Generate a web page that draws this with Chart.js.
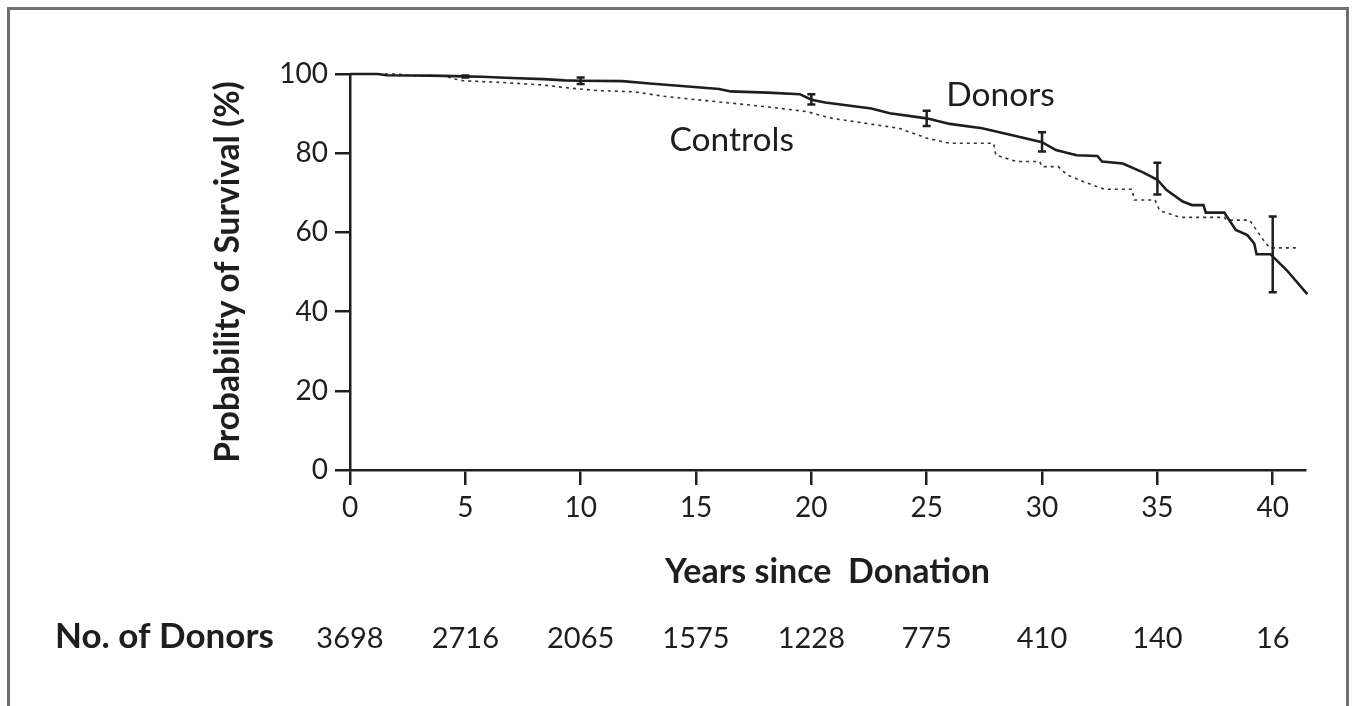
<!DOCTYPE html>
<html lang="en">
<head>
    <meta charset="UTF-8">
    <title>Probability of Survival - Donors vs Controls</title>
    <script src="https://cdn.jsdelivr.net/npm/chart.js"></script>
    <style>
      body { margin: 0; background: #fff; }
      #frame { position: absolute; left: 7px; top: 7px; width: 1336px; height: 720px;
               border: 3px solid #707070; border-bottom: none; }
      #survivalChart { position: absolute; left: 0; top: 0; }
    </style>
</head>
<body>
    <div id="frame"></div>
    <canvas id="survivalChart" width="1352" height="706"></canvas>

    <script>
      // Kaplan-Meier curves (years, % surviving)
      const donorYears = [0, 1.2, 1.6, 3.5, 5.0, 5.7, 7.0, 8.4, 9.3, 10, 11.8, 13.0, 15.2, 16.0, 16.5, 18.1, 19.5, 20.0, 20.6, 22.6, 23.4, 25.0, 26.0, 27.4, 28.9, 30.0, 30.6, 31.5, 32.4, 32.6, 33.5, 34.4, 35.0, 35.4, 36.1, 36.5, 37.0, 37.1, 37.9, 38.4, 38.9, 39.2, 39.3, 39.9, 40.6, 41.5];
      const donorSurvival = [100, 100, 99.7, 99.6, 99.4, 99.3, 99.0, 98.7, 98.4, 98.3, 98.2, 97.6, 96.6, 96.2, 95.6, 95.3, 94.9, 93.5, 92.8, 91.3, 90.1, 88.8, 87.4, 86.3, 84.3, 82.8, 80.8, 79.5, 79.3, 77.9, 77.4, 75.1, 73.3, 70.7, 67.8, 66.9, 66.9, 65.0, 65.0, 60.6, 59.3, 57.2, 54.5, 54.5, 50.5, 44.4];

      const controlYears = [0, 2.0, 2.7, 4.2, 4.4, 4.9, 6.8, 8.4, 9.6, 10.8, 12.3, 13.7, 15.2, 16.6, 18.1, 19.8, 20.9, 22.4, 23.8, 25.0, 26.0, 27.9, 28.0, 28.9, 29.9, 30.0, 30.7, 31.1, 31.8, 32.7, 33.9, 34.0, 34.9, 35.1, 36.0, 37.9, 38.0, 39.0, 39.7, 39.9, 41.1];
      const controlSurvival = [100, 100, 99.6, 99.4, 98.9, 98.3, 97.8, 97.2, 96.4, 95.8, 95.5, 94.3, 93.4, 92.6, 91.7, 90.5, 88.8, 87.5, 86.3, 83.8, 82.5, 82.5, 79.5, 77.9, 77.9, 76.6, 76.6, 74.5, 72.8, 70.9, 70.9, 68.2, 68.2, 65.5, 63.8, 63.8, 63.1, 63.1, 57.2, 56.1, 56.1];

      // 95% confidence bars on the donor curve
      const ciYears = [5, 10, 20, 25, 30, 35, 40];
      const ciLow = [99.1, 97.5, 92.3, 86.9, 80.4, 69.6, 44.9];
      const ciHigh = [99.6, 99.1, 94.9, 90.7, 85.3, 77.6, 64.0];

      // number at risk
      const riskYears = [0, 5, 10, 15, 20, 25, 30, 35, 40];
      const donorsAtRisk = [3698, 2716, 2065, 1575, 1228, 775, 410, 140, 16];

      const xTicks = [0, 5, 10, 15, 20, 25, 30, 35, 40];
      const yTicks = [0, 20, 40, 60, 80, 100];

      const INK = '#1e1e1e';
      const FONT = 'Lato, "Open Sans", sans-serif';

      const toPoints = (xs, ys) => xs.map((x, i) => ({ x: x, y: ys[i] }));

      const extras = {
        id: 'extras',
        afterDatasetsDraw(chart) {
          const ctx = chart.ctx;
          const xs = chart.scales.x, ys = chart.scales.y;
          ctx.save();
          // error bars
          ctx.strokeStyle = INK;
          ctx.lineWidth = 2.5;
          ciYears.forEach((yr, i) => {
            const px = xs.getPixelForValue(yr);
            const top = ys.getPixelForValue(ciHigh[i]);
            const bot = ys.getPixelForValue(ciLow[i]);
            ctx.beginPath();
            ctx.moveTo(px, top); ctx.lineTo(px, bot);
            ctx.moveTo(px - 4, top); ctx.lineTo(px + 4, top);
            ctx.moveTo(px - 4, bot); ctx.lineTo(px + 4, bot);
            ctx.stroke();
          });

          // curve labels
          ctx.fillStyle = INK;
          ctx.font = '33.5px ' + FONT;
          ctx.textAlign = 'left';
          ctx.textBaseline = 'alphabetic';
          ctx.fillText('Donors', xs.getPixelForValue(25.85), ys.getPixelForValue(92.0));
          ctx.fillText('Controls', xs.getPixelForValue(13.85), ys.getPixelForValue(80.6));

          // number at risk row
          const rowY = 648;
          ctx.font = 'bold 35px ' + FONT;
          ctx.fillText('No. of Donors', 55, rowY);
          ctx.font = '29px ' + FONT;
          ctx.textAlign = 'center';
          riskYears.forEach((yr, i) => {
            ctx.fillText(String(donorsAtRisk[i]), xs.getPixelForValue(yr), rowY);
          });
          ctx.restore();
        }
      };

      const ctx = document.getElementById('survivalChart').getContext('2d');
      new Chart(ctx, {
        type: 'line',
        data: {
          datasets: [
            {
              label: 'Donors',
              data: toPoints(donorYears, donorSurvival),
              borderColor: INK,
              borderWidth: 2.6,
              pointRadius: 0,
              tension: 0,
              clip: false
            },
            {
              label: 'Controls',
              data: toPoints(controlYears, controlSurvival),
              borderColor: '#333',
              borderWidth: 1.6,
              borderDash: [3, 4],
              pointRadius: 0,
              tension: 0,
              clip: false
            }
          ]
        },
        options: {
          responsive: false,
          animation: false,
          layout: { padding: { left: 208, right: 47, top: 74, bottom: 114 } },
          plugins: { legend: { display: false }, tooltip: { enabled: false } },
          scales: {
            x: {
              type: 'linear',
              min: 0,
              max: 41.4,
              afterBuildTicks: s => { s.ticks = xTicks.map(v => ({ value: v })); },
              afterFit: s => { s.height = 122; },
              border: { display: true, color: INK, width: 2.5 },
              grid: { drawOnChartArea: false, drawTicks: true, tickLength: 15, color: INK, lineWidth: 2.5 },
              ticks: { color: INK, font: { family: FONT, size: 28 }, padding: 6, autoSkip: false, maxRotation: 0 },
              title: { display: true, text: 'Years since  Donation', color: INK, padding: 0,
                       font: { family: FONT, size: 34, weight: 'bold' } }
            },
            y: {
              min: 0,
              max: 100,
              afterBuildTicks: s => { s.ticks = yTicks.map(v => ({ value: v })); },
              afterFit: s => { s.width = 142; },
              border: { display: true, color: INK, width: 2.5 },
              grid: { drawOnChartArea: false, drawTicks: true, tickLength: 15, color: INK, lineWidth: 2.5 },
              ticks: { color: INK, font: { family: FONT, size: 28 }, padding: 7 },
              title: { display: true, text: 'Probability of Survival (%)', color: INK, padding: 0,
                       font: { family: FONT, size: 33.5, weight: 'bold' } }
            }
          }
        },
        plugins: [extras]
      });
    </script>
</body>
</html>
